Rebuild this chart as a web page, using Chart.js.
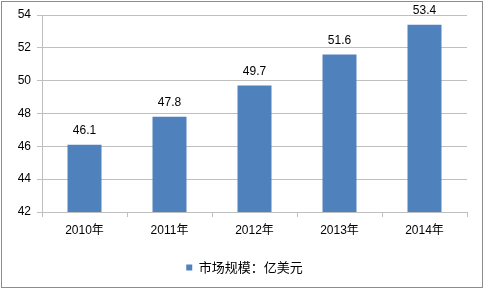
<!DOCTYPE html>
<html>
<head>
<meta charset="utf-8">
<script src="https://cdn.jsdelivr.net/npm/chart.js@4"></script>
<style>
  html, body { margin: 0; padding: 0; background: #fff; }
  #marco { position: absolute; left: 1px; top: 1px; width: 480px; height: 285px; border: 1px solid #8c8c8c; }
  #wrap { position: absolute; left: 0; top: 0; width: 484px; height: 290px; }
</style>
</head>
<body>
<div id="marco"></div>
<div id="wrap"><canvas id="grafico" width="484" height="290"></canvas></div>
<script>
// datos del gráfico
const anios = ['2010年', '2011年', '2012年', '2013年', '2014年'];
const valores = [46.1, 47.8, 49.7, 51.6, 53.4];
const serie = '市场规模：亿美元';
const ejeMin = 42, ejeMax = 54, paso = 2;

const fuente = '"Liberation Sans", "Noto Sans CJK SC", sans-serif';

// etiquetas encima de las barras
const etiquetas = {
  id: 'etiquetas',
  afterLayout(chart) {
    // centrar la leyenda un poco más a la derecha, como en el original
    if (chart.legend) { chart.legend.left += 22; }
  },
  afterDatasetsDraw(chart) {
    const ctx = chart.ctx;
    const meta = chart.getDatasetMeta(0);
    ctx.save();
    ctx.font = '12px ' + fuente;
    ctx.fillStyle = '#000';
    ctx.textAlign = 'center';
    ctx.textBaseline = 'middle';
    meta.data.forEach((bar, i) => {
      ctx.fillText(valores[i].toFixed(1), bar.x, bar.y - 14);
    });
    ctx.restore();
  }
};

new Chart(document.getElementById('grafico'), {
  type: 'bar',
  data: {
    labels: anios,
    datasets: [{ label: serie, data: valores, backgroundColor: '#4f81bd', barPercentage: 0.4, categoryPercentage: 1 }]
  },
  options: {
    responsive: false,
    animation: false,
    layout: { padding: { left: 0, right: 17, top: 15, bottom: 6 } },
    plugins: {
      tooltip: { enabled: false },
      legend: {
        position: 'bottom',
        labels: { font: { family: '"Noto Sans CJK SC", sans-serif', size: 13 }, color: '#000', boxWidth: 6, boxHeight: 6, padding: 9 }
      }
    },
    scales: {
      x: {
        grid: { display: true, drawOnChartArea: false, offset: true, tickLength: 5, color: '#bfbfbf' },
        border: { color: '#bfbfbf' },
        ticks: { font: { family: fuente, size: 12 }, color: '#000', padding: 6, maxRotation: 0 },
        afterFit: s => { s.height = 40; }
      },
      y: {
        min: ejeMin, max: ejeMax,
        grid: { color: '#bfbfbf', tickLength: 5 },
        border: { color: '#bfbfbf' },
        ticks: { stepSize: paso, font: { family: fuente, size: 12 }, color: '#000', padding: 6 },
        afterFit: s => { s.width = 42; }
      }
    }
  },
  plugins: [etiquetas]
});
</script>
</body>
</html>
